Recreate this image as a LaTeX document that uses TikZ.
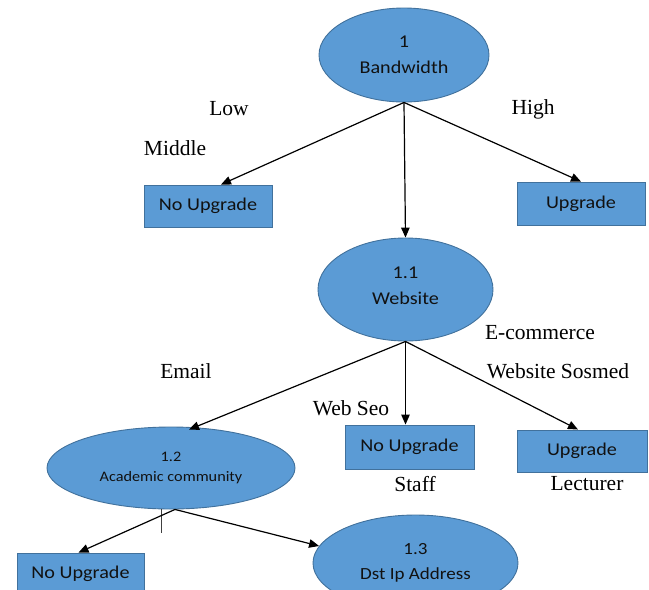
\documentclass[tikz,border=0pt]{standalone}
\usepackage{fontspec}
\usepackage{graphicx}
\setmainfont{Liberation Serif}
\newfontfamily\calibri{Carlito}
\usetikzlibrary{shapes.geometric,arrows.meta}
\definecolor{boxfill}{HTML}{5B9BD5}
\definecolor{boxedge}{HTML}{41719C}
\definecolor{txt}{HTML}{111111}
\newcommand{\hs}[1]{\scalebox{1.12}[1]{#1}}
\tikzset{
  ell/.style={ellipse,draw=boxedge,fill=boxfill,line width=0.9pt,inner sep=0pt,text=txt,
    font=\calibri\fontsize{18}{26}\selectfont,align=center},
  rbox/.style={rectangle,draw=boxedge,fill=boxfill,line width=0.9pt,inner sep=0pt,text=txt,
    font=\calibri\fontsize{18}{20}\selectfont},
  lbl/.style={font=\fontsize{21.5}{24}\selectfont,inner sep=0pt},
  arr/.style={line width=1.2pt,-{Triangle[length=10pt,width=8.5pt]}}
}
\begin{document}
\begin{tikzpicture}[x=1pt,y=-1pt]
\useasboundingbox (0,0) rectangle (649,590);
% nodes
\node[ell,minimum width=170pt,minimum height=94pt] (bw) at (404,55) {\hs{1}\\\hs{Bandwidth}};
\node[rbox,minimum width=128pt,minimum height=42pt] (lnu) at (208,206) {\hs{No Upgrade}};
\node[rbox,minimum width=128pt,minimum height=43pt] (hup) at (581,203.5) {\hs{Upgrade}};
\node[ell,minimum width=175pt,minimum height=103pt,text depth=8pt] (web) at (405.5,289.5) {\hs{1.1}\\\hs{Website}};
\node[rbox,minimum width=129pt,minimum height=44pt] (mnu) at (409.5,447) {\hs{No Upgrade}};
\node[rbox,minimum width=130pt,minimum height=42pt] (rup) at (582,451) {\hs{Upgrade}};
\node[ell,minimum width=248pt,minimum height=82pt,font=\calibri\fontsize{14.5}{20}\selectfont] (acad) at (171,468) {\hs{1.2}\\\hs{Academic community}};
\node[rbox,minimum width=127pt,minimum height=42pt] (bnu) at (80.5,574) {\hs{No Upgrade}};
\node[ell,minimum width=205pt,minimum height=96pt,font=\calibri\fontsize{17}{25}\selectfont] (dst) at (415.5,563) {\hs{1.3}\\\hs{Dst Ip Address}};
% labels
\node[lbl] (low) at (229,109) {Low};
\node[lbl] (mid) at (175,148) {Middle};
\node[lbl] (high) at (533,109) {High};
\node[lbl] (ecom) at (540,333) {E-commerce};
\node[lbl] (sos) at (558,371) {Website Sosmed};
\node[lbl] (email) at (186,371) {Email};
\node[lbl] (seo) at (351,408) {Web Seo};
\node[lbl] (staff) at (415,484) {Staff};
\node[lbl] (lect) at (587,484) {Lecturer};
% connectors
\draw[arr] (bw.south) -- ([xshift=13pt]lnu.north);
\draw[arr] (bw.south) -- (hup.north);
\draw[arr] (bw.south) -- (web.north);
\draw[arr] (web.south) -- ([xshift=18pt,yshift=-3pt]acad.north);
\draw[arr] (web.south) -- (web.south |- mnu.north);
\draw[arr] (web.south) -- ([xshift=-4pt]rup.north);
\coordinate (tick) at ([xshift=-10pt,yshift=-24pt]acad.south);
\draw[line width=0.9pt,black!75] ([xshift=-10pt]acad.south) -- (tick);
\draw[arr] ([xshift=4pt]acad.south) -- ([xshift=-2pt]bnu.north);
\draw[arr] ([xshift=4pt]acad.south) -- (dst.170);
\end{tikzpicture}
\end{document}
